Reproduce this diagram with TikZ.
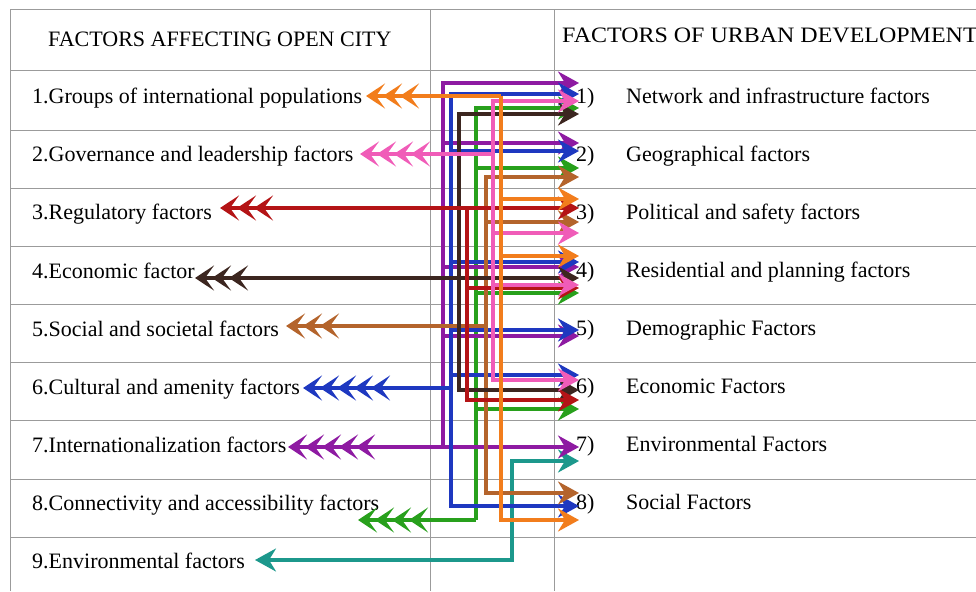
\documentclass[tikz,border=0pt]{standalone}
\usepackage{fontspec}
\setmainfont{Liberation Serif}
\usetikzlibrary{arrows.meta}

\definecolor{cOrange}{RGB}{242,125,28}
\definecolor{cPink}{RGB}{240,92,184}
\definecolor{cRed}{RGB}{180,20,22}
\definecolor{cDark}{RGB}{60,38,32}
\definecolor{cBrown}{RGB}{180,100,44}
\definecolor{cBlue}{RGB}{30,56,192}
\definecolor{cPurple}{RGB}{142,26,162}
\definecolor{cGreen}{RGB}{40,160,28}
\definecolor{cTeal}{RGB}{28,152,140}
\definecolor{cGrid}{RGB}{155,155,155}

\tikzset{
    Chev/.tip={Stealth[length=19pt,width=25pt,inset=9pt,sep=-2pt]},
    Head/.tip={Stealth[length=21pt,width=23pt,inset=7pt]},
    gridline/.style={draw=cGrid, line width=1pt},
    txt/.style={anchor=base west, inner sep=0pt, font=\fontsize{22}{26}\selectfont},
    link/.style={line width=3.2pt},
}

\begin{document}
\begin{tikzpicture}[x=1pt, y=-1pt]
    \useasboundingbox (0,0) rectangle (976,591);
    \def\xe{579}
    % Draw the table
    \draw[gridline] (10,591) -- (10,10) -- (976,10);
    \draw[gridline] (430,10) -- (430,591);
    \draw[gridline] (554,10) -- (554,591);
    \foreach \y in {71,130,188,246,304,362,420,479,537} {
        \draw[gridline] (10,\y) -- (976,\y);
    }

    % Headings
    \node[txt] (headL) at (48,47) {FACTORS AFFECTING OPEN CITY};
    \node[txt, xscale=1.09, transform shape] (headR) at (562,43) {FACTORS OF URBAN DEVELOPMENT};

    % Factors affecting open city
    \node[txt] (open1) at (32,103) {1.Groups of international populations};
    \node[txt] (open2) at (32,161) {2.Governance and leadership factors};
    \node[txt] (open3) at (32,219) {3.Regulatory factors};
    \node[txt] (open4) at (32,278) {4.Economic factor};
    \node[txt] (open5) at (32,336) {5.Social and societal factors};
    \node[txt] (open6) at (32,394) {6.Cultural and amenity factors};
    \node[txt] (open7) at (32,452) {7.Internationalization factors};
    \node[txt] (open8) at (32,510) {8.Connectivity and accessibility factors};
    \node[txt] (open9) at (32,568) {9.Environmental factors};

    % Factors of urban development
    \foreach \i/\name [evaluate=\i as \yy using 103+58.1*(\i-1)] in
        {1/Network and infrastructure factors, 2/Geographical factors,
         3/Political and safety factors, 4/Residential and planning factors,
         5/Demographic Factors, 6/Economic Factors,
         7/Environmental Factors, 8/Social Factors} {
        \node[txt] (idx\i) at (576,\yy) {\i)};
        \node[txt] (urb\i) at (626,\yy) {\name};
    }

    % Arrow tips on the left and the vertical buses
    \coordinate (t1) at (368,96);  \coordinate (b1) at (501,96);
    \coordinate (t2) at (362,154); \coordinate (b2) at (493,154);
    \coordinate (t3) at (222,208); \coordinate (b3) at (467,208);
    \coordinate (t4) at (197,278); \coordinate (b4) at (459,278);
    \coordinate (t5) at (288,326); \coordinate (b5) at (486,326);
    \coordinate (t6) at (305,388); \coordinate (b6) at (451,388);
    \coordinate (t7) at (290,447); \coordinate (b7) at (443,447);
    \coordinate (t8) at (360,520); \coordinate (b8) at (476,520);
    \coordinate (t9) at (255,560); \coordinate (b9) at (512,560);

    % 9. environmental
    \draw[link, cTeal, Head-Head] (t9) -- (b9) |- (\xe,461);
    % 8. connectivity
    \draw[link, cGreen, {Chev[]Chev[]Chev[]Chev[]}-] (t8) -- (b8);
    \foreach \y in {108,168,293,409} {
        \draw[link, cGreen, -Head] (b8) |- (\xe,\y);
    }
    % 7. internationalization
    \draw[link, cPurple, {Chev[]Chev[]Chev[]Chev[]Chev[]}-Head] (t7) -- (\xe,447);
    \foreach \y in {83,143,267,336} {
        \draw[link, cPurple, -Head] (b7) |- (\xe,\y);
    }
    % 6. cultural and amenity
    \draw[link, cBlue, {Chev[]Chev[]Chev[]Chev[]Chev[]}-] (t6) -- (b6);
    \foreach \y in {94,151,262,330,375,506} {
        \draw[link, cBlue, -Head] (b6) |- (\xe,\y);
    }
    % 5. social and societal
    \draw[link, cBrown, {Chev[]Chev[]Chev[]}-] (t5) -- (b5);
    \foreach \y in {177,222,493} {
        \draw[link, cBrown, -Head] (b5) |- (\xe,\y);
    }
    % 4. economic
    \draw[link, cDark, {Chev[]Chev[]Chev[]}-Head] (t4) -- (\xe,278);
    \foreach \y in {114,390} {
        \draw[link, cDark, -Head] (b4) |- (\xe,\y);
    }
    % 3. regulatory
    \draw[link, cRed, {Chev[]Chev[]Chev[]}-Head] (t3) -- (\xe,208);
    \foreach \y in {288,400} {
        \draw[link, cRed, -Head] (b3) |- (\xe,\y);
    }
    % 2. governance and leadership
    \draw[link, cPink, {Chev[]Chev[]Chev[]Chev[]}-] (t2) -- (b2);
    \foreach \y in {101,233,285,380} {
        \draw[link, cPink, -Head] (b2) |- (\xe,\y);
    }
    % 1. international populations
    \draw[link, cOrange, {Chev[]Chev[]Chev[]}-] (t1) -- (b1);
    \foreach \y in {199,256,520} {
        \draw[link, cOrange, -Head] (b1) |- (\xe,\y);
    }
\end{tikzpicture}
\end{document}
